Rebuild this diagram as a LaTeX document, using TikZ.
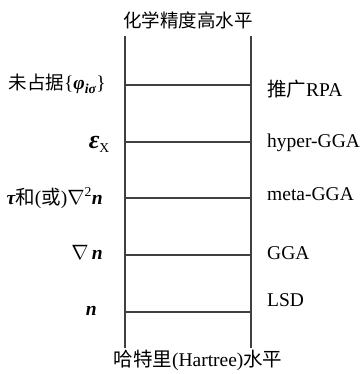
\documentclass[tikz,border=0pt]{standalone}
\usepackage{fontspec}
\setmainfont{Liberation Serif}
\newfontfamily\cjk{Noto Sans CJK SC}
\newcommand{\bi}[1]{{\bfseries\itshape #1}}
\begin{document}
\begin{tikzpicture}[x=1pt,y=-1pt,
  rail/.style={line width=1.3pt, draw=black!75},
  rung/.style={line width=1.1pt, draw=black!75},
  lab/.style={font=\fontsize{19.5}{22}\selectfont, inner sep=0pt}]
\useasboundingbox (0,0) rectangle (363,374);
\coordinate (LT) at (125,36);
\coordinate (LB) at (125,348);
\coordinate (RT) at (251,36);
\coordinate (RB) at (251,348);
\draw[rail] (LT) -- (LB);
\draw[rail] (RT) -- (RB);
\foreach \i/\y in {1/85,2/142,3/198,4/255,5/312}{
  \coordinate (l\i) at (125,\y);
  \coordinate (r\i) at (251,\y);
  \draw[rung] (l\i) -- (r\i);
}
\node[lab, font=\fontsize{18.5}{21}\selectfont] (top) at (188,20) {\cjk 化学精度高水平};
\node[lab, anchor=base] (bot) at (198,366) {{\cjk 哈特里}(Hartree){\cjk 水平}};
% left labels
\node[lab, anchor=base east] (a1) at (106,90) {{\cjk\fontsize{18.5}{21}\selectfont 未占据}\{\bi{φ}\textsubscript{\bi{iσ}}\}};
\node[lab, anchor=base east] (a2) at (110,149) {{\fontsize{26}{26}\selectfont\bi{ε}}\textsubscript{X}};
\node[lab, anchor=base east] (a3) at (103,204) {\bi{τ}{\cjk 和}({\cjk 或})$\nabla$\textsuperscript{2}\bi{n}};
\node[lab, anchor=base east] (a4) at (103,259) {$\nabla$\,\bi{n}};
\node[lab, anchor=base east] (a5) at (97,315) {\bi{n}};
% right labels
\node[lab, anchor=base west] (b1) at (267,97) {{\cjk 推广}RPA};
\node[lab, anchor=base west] (b2) at (267,147) {hyper-GGA};
\node[lab, anchor=base west] (b3) at (267,200) {meta-GGA};
\node[lab, anchor=base west] (b4) at (267,259) {GGA};
\node[lab, anchor=base west] (b5) at (267,306) {LSD};
\end{tikzpicture}
\end{document}
